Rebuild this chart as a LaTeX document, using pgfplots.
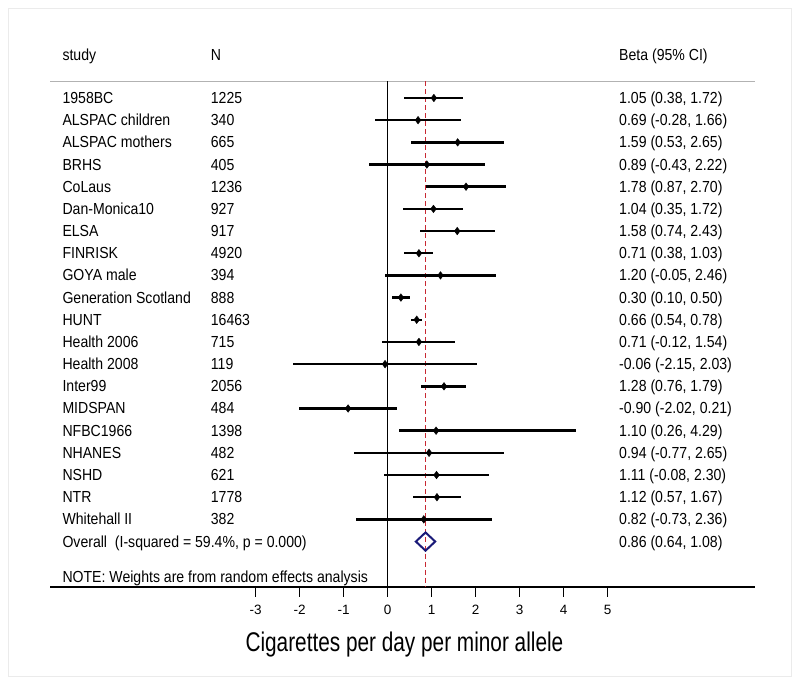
\documentclass[border=0pt]{standalone}
\usepackage{pgfplots}
\pgfplotsset{compat=1.18}
\usepackage{pgfplotstable}
\usepackage{graphicx}
\usepackage{fontspec}
\setmainfont{Liberation Sans}
\definecolor{navyc}{RGB}{26,26,120}
\definecolor{refred}{RGB}{200,40,50}
\newcommand\txt[1]{\fontsize{16}{18}\selectfont\scalebox{0.88}[1]{#1}}
\newcommand\rowtext[4]{%
 \node[anchor=base west, inner sep=0pt] at (axis cs:-7.395,-#1) [yshift=-5.5pt] {\txt{#2}};
 \node[anchor=base west, inner sep=0pt] at (axis cs:-4.023,-#1) [yshift=-5.5pt] {\txt{#3}};
 \node[anchor=base west, inner sep=0pt] at (axis cs:5.257,-#1) [yshift=-5.5pt] {\txt{#4}};}
% row position is plotted as y = -row
\pgfplotstableread[col sep=comma]{
y,b,lo,hi
-1,1.05,0.38,1.72
-2,0.69,-0.28,1.66
-3,1.59,0.53,2.65
-4,0.89,-0.43,2.22
-5,1.78,0.87,2.70
-6,1.04,0.35,1.72
-7,1.58,0.74,2.43
-8,0.71,0.38,1.03
-9,1.20,-0.05,2.46
-10,0.30,0.10,0.50
-11,0.66,0.54,0.78
-12,0.71,-0.12,1.54
-13,-0.06,-2.15,2.03
-14,1.28,0.76,1.79
-15,-0.90,-2.02,0.21
-16,1.10,0.26,4.29
-17,0.94,-0.77,2.65
-18,1.11,-0.08,2.30
-19,1.12,0.57,1.67
-20,0.82,-0.73,2.36
}\studies
% tick marks: centre of each 10pt tick hanging below the axis line
\pgfplotstableread{
t y
-3 -23.275
-2 -23.275
-1 -23.275
0 -23.275
1 -23.275
2 -23.275
3 -23.275
4 -23.275
5 -23.275
}\ticktab
\begin{document}
\begin{tikzpicture}
\path[fill=white] (0,0) rectangle (800pt,685pt);
\draw[color=black!8, line width=1pt] (8.5pt,8.5pt) rectangle (791.5pt,676.5pt);
\begin{axis}[
  at={(50pt,88pt)}, anchor=south west,
  scale only axis, width=705pt, height=515.5pt,
  xmin=-7.675, xmax=8.348, ymin=-23.50, ymax=-0.256,
  clip=false,
  axis line style={draw=none},
  ytick=\empty,
  xtick={-3,-2,-1,0,1,2,3,4,5},
  xtick pos=bottom,
  major tick length=0pt,
  xtick style={draw=none},
  xticklabel={\fontsize{13.5}{15}\selectfont\pgfmathprintnumber{\tick}},
  xticklabel style={inner sep=0pt, anchor=base, yshift=-17pt},
  /pgf/number format/assume math mode=true,
]
% top gray line
\addplot[color=black!30, line width=1pt] coordinates {(-7.675,-0.256) (8.348,-0.256)};
% bottom axis line
\addplot[black, line width=1.3pt] coordinates {(-7.675,-23.05) (8.348,-23.05)};
% tick marks
\addplot[black, only marks, mark=|, mark size=5pt, mark options={line width=1.3pt}]
  table[x=t, y=y] {\ticktab};
% zero line
\addplot[black, line width=1.1pt] coordinates {(0,-0.256) (0,-23.05)};
% overall effect dashed line
\addplot[refred, line width=1.3pt, dash pattern=on 5pt off 3pt] coordinates {(0.86,-0.256) (0.86,-23.05)};
% study estimates
\addplot[black, only marks, mark=diamond*, mark size=3.8pt,
  error bars/.cd, x dir=both, x explicit, error mark=none,
  error bar style={line width=2.5pt}]
  table[x=b, y=y, x error plus expr=\thisrow{hi}-\thisrow{b}, x error minus expr=\thisrow{b}-\thisrow{lo}] {\studies};
% overall diamond
\addplot[navyc, line width=2pt] coordinates {(0.64,-21) (0.86,-20.59) (1.08,-21) (0.86,-21.41)} -- cycle;

% header
\node[anchor=base west, inner sep=0pt] at (axis cs:-7.395,0.94) [yshift=-5.5pt] {\txt{study}};
\node[anchor=base west, inner sep=0pt] at (axis cs:-4.023,0.94) [yshift=-5.5pt] {\txt{N}};
\node[anchor=base west, inner sep=0pt] at (axis cs:5.257,0.94) [yshift=-5.5pt] {\txt{Beta (95\% CI)}};

\rowtext{1}{1958BC}{1225}{1.05 (0.38, 1.72)}
\rowtext{2}{ALSPAC children}{340}{0.69 (-0.28, 1.66)}
\rowtext{3}{ALSPAC mothers}{665}{1.59 (0.53, 2.65)}
\rowtext{4}{BRHS}{405}{0.89 (-0.43, 2.22)}
\rowtext{5}{CoLaus}{1236}{1.78 (0.87, 2.70)}
\rowtext{6}{Dan-Monica10}{927}{1.04 (0.35, 1.72)}
\rowtext{7}{ELSA}{917}{1.58 (0.74, 2.43)}
\rowtext{8}{FINRISK}{4920}{0.71 (0.38, 1.03)}
\rowtext{9}{GOYA male}{394}{1.20 (-0.05, 2.46)}
\rowtext{10}{Generation Scotland}{888}{0.30 (0.10, 0.50)}
\rowtext{11}{HUNT}{16463}{0.66 (0.54, 0.78)}
\rowtext{12}{Health 2006}{715}{0.71 (-0.12, 1.54)}
\rowtext{13}{Health 2008}{119}{-0.06 (-2.15, 2.03)}
\rowtext{14}{Inter99}{2056}{1.28 (0.76, 1.79)}
\rowtext{15}{MIDSPAN}{484}{-0.90 (-2.02, 0.21)}
\rowtext{16}{NFBC1966}{1398}{1.10 (0.26, 4.29)}
\rowtext{17}{NHANES}{482}{0.94 (-0.77, 2.65)}
\rowtext{18}{NSHD}{621}{1.11 (-0.08, 2.30)}
\rowtext{19}{NTR}{1778}{1.12 (0.57, 1.67)}
\rowtext{20}{Whitehall II}{382}{0.82 (-0.73, 2.36)}
\node[anchor=base west, inner sep=0pt] at (axis cs:-7.395,-21) [yshift=-5.5pt] {\txt{Overall\ \ (I-squared = 59.4\%, p = 0.000)}};
\node[anchor=base west, inner sep=0pt] at (axis cs:5.257,-21) [yshift=-5.5pt] {\txt{0.86 (0.64, 1.08)}};
\node[anchor=base west, inner sep=0pt] at (axis cs:-7.395,-22.59) [yshift=-5.5pt] {\txt{NOTE: Weights are from random effects analysis}};

% x label
\node[anchor=base, inner sep=0pt] at (axis cs:0.38,-23.05) [yshift=-64pt] {\fontsize{27}{30}\selectfont\scalebox{0.77}[1]{Cigarettes per day per minor allele}};
\end{axis}
\end{tikzpicture}
\end{document}
